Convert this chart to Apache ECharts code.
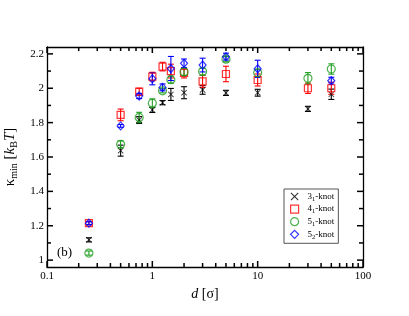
<!DOCTYPE html>
<html><head><meta charset="utf-8">
<script src="https://cdn.jsdelivr.net/npm/echarts@6/dist/echarts.min.js"></script>
<style>html,body{margin:0;padding:0;background:#fff}#c{width:409px;height:316px}</style>
</head><body><div id="c"></div>
<script>
// ---- data ----
const dVals = [0.25, 0.5, 0.75, 1, 1.25, 1.5, 2, 3, 5, 10, 30, 50];
const k31 = [1.118, 1.637, 1.815, 1.874, 1.916, 1.964, 1.974, 1.99, 1.973, 1.974, 1.88, 1.965];
const k31err = [0.012, 0.032, 0.02, 0.015, 0.012, 0.035, 0.035, 0.025, 0.015, 0.02, 0.015, 0.03];
const k41 = [1.215, 1.845, 1.98, 2.068, 2.126, 2.10, 2.09, 2.04, 2.083, 2.048, 2.0, 2.0];
const k41err = [0.01, 0.034, 0.02, 0.025, 0.025, 0.04, 0.03, 0.035, 0.045, 0.035, 0.03, 0.035];
const k51 = [1.041, 1.674, 1.83, 1.913, 1.985, 2.05, 2.095, 2.097, 2.169, 2.09, 2.058, 2.112];
const k51err = [0.012, 0.02, 0.03, 0.025, 0.012, 0.02, 0.02, 0.02, 0.015, 0.02, 0.033, 0.03];
const k52 = [1.215, 1.781, 1.955, 2.055, 2.005, 2.115, 2.145, 2.135, 2.184, 2.113, null, 2.044];
const k52err = [0.008, 0.008, 0.015, 0.035, 0.02, 0.07, 0.025, 0.04, 0.02, 0.05, null, 0.02];
const seriesNames = ['3\u2081-knot', '4\u2081-knot', '5\u2081-knot', '5\u2082-knot'];
const xRange = [0.1, 100];
const yRange = [0.96, 2.24];
const xMajor = [0.1, 1, 10, 100];
const xMinor = [0.2, 0.3, 0.4, 0.5, 0.6, 0.7, 0.8, 0.9, 2, 3, 4, 5, 6, 7, 8, 9, 20, 30, 40, 50, 60, 70, 80, 90];
const yMajor = [1, 1.2, 1.4, 1.6, 1.8, 2, 2.2];
const yMinor = [1.1, 1.3, 1.5, 1.7, 1.9, 2.1];

// ---- styling ----
const FONT = 'Liberation Serif';
const colors = ['#000000', '#ff0000', '#1f9e1f', '#0000ff'];
const crossPath = 'path://M0,1L1,0L5,4L9,0L10,1L6,5L10,9L9,10L5,6L1,10L0,9L4,5Z';
const symbols = [crossPath, 'rect', 'circle', 'diamond'];
const symSizes = [[6,6], 7, 8, [7,8]];
const vals = [k31, k41, k51, k52];
const errs = [k31err, k41err, k51err, k52err];
const MAJOR_LEN = 6, MINOR_LEN = 4;

function pts(v, e) {
  const out = [];
  for (let i = 0; i < dVals.length; i++) if (v[i] != null) out.push([dVals[i], v[i], e[i]]);
  return out;
}
function errRenderer(color) {
  return function (params, api) {
    const x = api.value(0), y = api.value(1), e = api.value(2);
    const t = api.coord([x, y + e]), b = api.coord([x, y - e]);
    const w = 3, st = {stroke: color, lineWidth: 1.1};
    return {type: 'group', children: [
      {type: 'line', shape: {x1: t[0], y1: t[1], x2: b[0], y2: b[1]}, style: st},
      {type: 'line', shape: {x1: t[0]-w, y1: t[1], x2: t[0]+w, y2: t[1]}, style: st},
      {type: 'line', shape: {x1: b[0]-w, y1: b[1], x2: b[0]+w, y2: b[1]}, style: st}
    ]};
  };
}
// inward tick marks on all four sides, positioned through the axes' scales
function xTickRenderer(params, api) {
  const xv = api.value(0), len = api.value(2);
  const b = api.coord([xv, yRange[0]]), t = api.coord([xv, yRange[1]]);
  const st = {stroke: '#000', lineWidth: 1.5};
  return {type: 'group', children: [
    {type: 'line', shape: {x1: b[0], y1: b[1], x2: b[0], y2: b[1] - len}, style: st},
    {type: 'line', shape: {x1: t[0], y1: t[1], x2: t[0], y2: t[1] + len}, style: st}
  ]};
}
function yTickRenderer(params, api) {
  const yv = api.value(1), len = api.value(2);
  const l = api.coord([xRange[0], yv]), r = api.coord([xRange[1], yv]);
  const st = {stroke: '#000', lineWidth: 1.5};
  return {type: 'group', children: [
    {type: 'line', shape: {x1: l[0], y1: l[1], x2: l[0] + len, y2: l[1]}, style: st},
    {type: 'line', shape: {x1: r[0], y1: r[1], x2: r[0] - len, y2: r[1]}, style: st}
  ]};
}
const xTickData = xMajor.map(v => [v, yRange[0], MAJOR_LEN]).concat(xMinor.map(v => [v, yRange[0], MINOR_LEN]));
const yTickData = yMajor.map(v => [xRange[0], v, MAJOR_LEN]).concat(yMinor.map(v => [xRange[0], v, MINOR_LEN]));

function xAx(pos, labels) {
  return {type: 'log', min: xRange[0], max: xRange[1], position: pos,
    axisLine: {show: true, lineStyle: {color: '#000', width: 1.3}},
    axisTick: {show: false}, minorTick: {show: false},
    axisLabel: labels ? {show: true, color: '#000', fontFamily: FONT, fontSize: 11, margin: 4} : {show: false},
    splitLine: {show: false}};
}
function yAx(pos, labels) {
  return {type: 'value', min: yRange[0], max: yRange[1], splitNumber: 6, position: pos,
    axisLine: {show: true, lineStyle: {color: '#000', width: 1.3}},
    axisTick: {show: false}, minorTick: {show: false},
    axisLabel: labels ? {show: true, color: '#000', fontFamily: FONT, fontSize: 11, margin: 3,
      formatter: function (v) { return Math.abs(v * 5 - Math.round(v * 5)) < 1e-6 ? String(+v.toFixed(1)) : ''; }} : {show: false},
    splitLine: {show: false}};
}

const xAxes = [xAx('bottom', true), xAx('top', false)];
xAxes[0].name = '{i|d} [σ]';
xAxes[0].nameLocation = 'middle';
xAxes[0].nameGap = 14;
xAxes[0].nameTextStyle = {color: '#000', fontFamily: FONT, fontSize: 14,
  rich: {i: {fontStyle: 'italic', fontFamily: FONT, fontSize: 14, color: '#000'}}};
const yAxes = [yAx('left', true), yAx('right', false)];
yAxes[0].name = '{n|κ}{s|min}{n| [}{i|k}{s|B}{i|T}{n|]}';
yAxes[0].nameLocation = 'middle';
yAxes[0].nameGap = 22;
yAxes[0].nameTextStyle = {color: '#000', fontFamily: FONT, fontSize: 14,
  rich: {
    n: {fontFamily: FONT, fontSize: 15, color: '#000'},
    i: {fontFamily: FONT, fontSize: 15, fontStyle: 'italic', color: '#000'},
    s: {fontFamily: FONT, fontSize: 10, color: '#000', padding: [8, 0, 0, 0]}
  }};

const series = [
  {type: 'custom', name: 'x ticks', xAxisIndex: 0, yAxisIndex: 0, data: xTickData,
    encode: {x: 0, y: 1}, renderItem: xTickRenderer, silent: true, z: 1, clip: false},
  {type: 'custom', name: 'y ticks', xAxisIndex: 0, yAxisIndex: 0, data: yTickData,
    encode: {x: 0, y: 1}, renderItem: yTickRenderer, silent: true, z: 1, clip: false}
];
for (let k = 0; k < 4; k++) {
  series.push({type: 'custom', name: seriesNames[k] + ' err', xAxisIndex: 0, yAxisIndex: 0,
    data: pts(vals[k], errs[k]), encode: {x: 0, y: 1}, renderItem: errRenderer(colors[k]),
    z: 2, silent: true});
}
for (let k = 0; k < 4; k++) {
  const filled = k === 0;
  series.push({type: 'scatter', name: seriesNames[k], xAxisIndex: 0, yAxisIndex: 0,
    data: pts(vals[k], errs[k]), encode: {x: 0, y: 1},
    symbol: symbols[k], symbolSize: symSizes[k],
    itemStyle: filled ? {color: colors[k]} : {color: 'rgba(0,0,0,0)', borderColor: colors[k], borderWidth: 1.2},
    z: 3});
}

const legendData = seriesNames.map((n, k) => ({
  name: n, icon: symbols[k],
  itemStyle: k === 0 ? {color: colors[k], borderWidth: 0} : {color: 'rgba(0,0,0,0)', borderColor: colors[k], borderWidth: 1.2}
}));

const chart = echarts.init(document.getElementById('c'), null, {renderer: 'canvas'});
chart.setOption({
  animation: false,
  grid: {left: 47, right: 46, top: 47, bottom: 49, outerBoundsMode: 'none'},
  xAxis: xAxes,
  yAxis: yAxes,
  legend: {
    data: legendData, orient: 'vertical', left: 284, top: 189,
    padding: [3, 4, 3, 6], itemWidth: 8, itemHeight: 8, itemGap: 2,
    borderColor: '#555', borderWidth: 1, borderRadius: 0,
    selectedMode: false,
    formatter: function (name) {
      return '{f|' + name[0] + '}{s|' + (name[1] === '\u2081' ? '1' : '2') + '}{n|' + name.slice(2) + '}';
    },
    textStyle: {fontFamily: FONT, fontSize: 9, color: '#000',
      rich: {f: {fontFamily: FONT, fontSize: 9, color: '#000', padding: [0, 0, 0, 4]},
             n: {fontFamily: FONT, fontSize: 9, color: '#000'},
             s: {fontFamily: FONT, fontSize: 6.5, color: '#000', padding: [5, 0, 0, 0]}}}
  },
  graphic: [{type: 'text', left: 57, top: 246, style: {text: '(b)', font: '13px "Liberation Serif"', fill: '#000'}}],
  series: series
});
</script></body></html>
